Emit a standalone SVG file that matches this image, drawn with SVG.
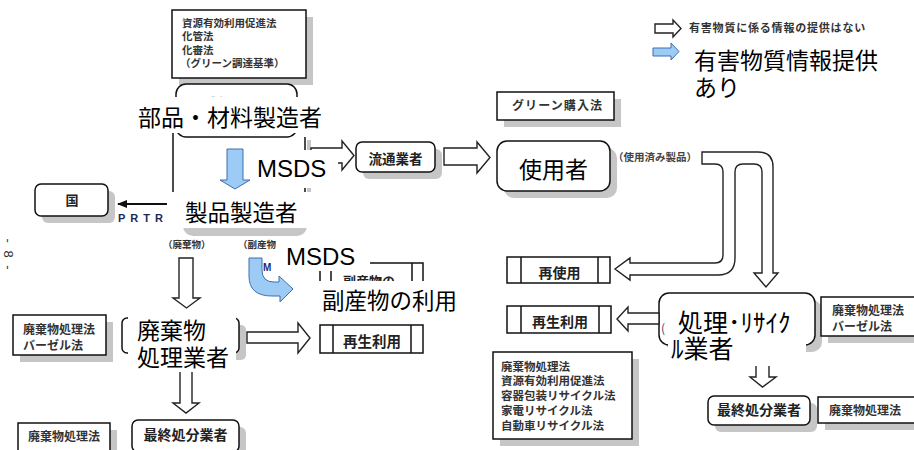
<svg xmlns="http://www.w3.org/2000/svg" width="914" height="450" viewBox="0 0 914 450">
<defs>
<marker id="ah" markerWidth="10" markerHeight="8" refX="9" refY="4" orient="auto" markerUnits="userSpaceOnUse">
<path d="M0,0 L10,4 L0,8 Z" fill="#111"/>
</marker>
</defs>
<style>
.bx{fill:#fff;stroke:#111;stroke-width:1.5}
.ln{fill:none;stroke:#111;stroke-width:1.5}
.sh{fill:#c6c6c6}
.ha{fill:#fff;stroke:#222;stroke-width:1.4}
.ba{fill:#9ccbf6;stroke:#3d6fae;stroke-width:1}
.wb{fill:#fff}
text{font-family:"Noto Sans CJK JP","Noto Sans CJK SC",sans-serif;fill:#222}
.law{font-size:11.5px;fill:#333;font-weight:bold}
.b{font-weight:bold}
.big{font-size:23px;fill:#000;font-weight:normal}
.ms{font-family:"Liberation Sans",Arial,sans-serif;font-size:24px;fill:#000}
.sm{font-size:9.5px;font-weight:bold;fill:#333}
</style>
<rect width="914" height="450" fill="#fff"/>

<g id="law-top">
<rect class="sh" x="179" y="17" width="134" height="68"/>
<rect class="bx" x="172" y="10" width="134" height="68"/>
<text class="law" style="font-size:10.5px" x="182" y="27">資源有効利用促進法</text>
<text class="law" style="font-size:10.5px" x="182" y="40">化管法</text>
<text class="law" style="font-size:10.5px" x="182" y="53.5">化審法</text>
<text class="law" style="font-size:10.5px" x="180" y="67">（グリーン調達基準）</text>
</g>

<g id="maker">
<rect class="bx" x="176" y="84" width="121" height="53" rx="10"/>
<text class="b" style="font-size:13px" x="210" y="108" letter-spacing="9">製造者</text>
<line class="ln" x1="173" y1="133" x2="173" y2="196"/>
<rect class="sh" x="307" y="140" width="4" height="52"/>
<line class="ln" x1="305" y1="137" x2="305" y2="196"/>
<rect class="sh" x="183" y="200" width="124" height="36" rx="10"/>
<rect class="wb" x="134" y="97" width="198" height="36"/>
<text class="big" x="138" y="125.5">部品・材料製造者</text>
<rect class="wb" x="172" y="192" width="136" height="36"/>
<text class="big" style="font-size:22.5px" x="185" y="220.5">製品製造者</text>
</g>

<g id="kuni">
<rect class="sh" x="42" y="191" width="73" height="32" rx="6"/>
<rect class="bx" x="35" y="184" width="73" height="32" rx="6"/>
<text class="b" style="font-size:13px" x="72" y="205" text-anchor="middle">国</text>
</g>

<g id="ryutsu">
<rect class="sh" x="363" y="149" width="79" height="30" rx="6"/>
<rect class="bx" x="356" y="142" width="79" height="30" rx="6"/>
<text class="b" style="font-size:13.5px" x="395.5" y="164" text-anchor="middle">流通業者</text>
</g>

<g id="green">
<rect class="sh" x="504" y="99" width="117" height="28"/>
<rect class="bx" x="497" y="92" width="117" height="28"/>
<text class="law" style="font-size:12px" x="512" y="110" textLength="90">グリーン購入法</text>
</g>

<g id="shiyo">
<rect class="sh" x="504" y="148" width="113" height="50" rx="10"/>
<rect class="bx" x="497" y="141" width="113" height="50" rx="10"/>
<text class="big" x="553.5" y="177.5" text-anchor="middle">使用者</text>
</g>

<g id="reuse">
<rect class="bx" x="507" y="257" width="103" height="26"/>
<line class="ln" x1="521" y1="257" x2="521" y2="283"/>
<line class="ln" x1="598" y1="257" x2="598" y2="283"/>
<text class="b" style="font-size:14px" x="559.5" y="278" text-anchor="middle">再使用</text>
</g>

<g id="recycle-right">
<rect class="bx" x="507" y="306" width="104" height="27"/>
<line class="ln" x1="521" y1="306" x2="521" y2="333"/>
<line class="ln" x1="599" y1="306" x2="599" y2="333"/>
<text class="b" style="font-size:14px" x="560" y="327" text-anchor="middle">再生利用</text>
</g>

<g id="shori">
<rect class="sh" x="666" y="300" width="156" height="52" rx="10"/>
<rect class="bx" x="659" y="293" width="156" height="52" rx="10"/>
<text style="font-size:12px;fill:#446" x="661" y="333">(</text>
<rect class="wb" x="668" y="305" width="138" height="60"/>
<text class="big" style="font-size:25px" x="678" y="332">処理･ﾘｻｲｸ</text>
<text class="big" style="font-size:25px" x="671" y="357.5">ﾙ業者</text>
</g>

<g id="law-right-1">
<rect class="sh" x="828" y="304" width="100" height="39"/>
<rect class="bx" x="821" y="297" width="100" height="39"/>
<text class="law" style="font-size:12px" x="832" y="314.5">廃棄物処理法</text>
<text class="law" style="font-size:12px" x="832" y="330.5">バーゼル法</text>
</g>

<g id="law-list">
<rect class="sh" x="500" y="359" width="139" height="87"/>
<rect class="bx" x="493" y="352" width="139" height="87"/>
<text class="law" x="501" y="370.5">廃棄物処理法</text>
<text class="law" x="501" y="384.5">資源有効利用促進法</text>
<text class="law" x="501" y="400">容器包装リサイクル法</text>
<text class="law" x="501" y="415">家電リサイクル法</text>
<text class="law" x="501" y="429.5">自動車リサイクル法</text>
</g>

<g id="saishu-right">
<rect class="sh" x="715" y="403" width="102" height="29" rx="6"/>
<rect class="bx" x="708" y="396" width="102" height="29" rx="6"/>
<text class="b" style="font-size:14px" x="759" y="415" text-anchor="middle">最終処分業者</text>
</g>

<g id="law-right-2">
<rect class="sh" x="825" y="404" width="100" height="26"/>
<rect class="bx" x="818" y="397" width="100" height="26"/>
<text class="law" style="font-size:12px" x="829" y="415">廃棄物処理法</text>
</g>

<g id="haiki-gyosha">
<rect class="sh" x="129" y="325" width="117" height="35" rx="5"/>
<rect class="bx" x="122" y="318" width="117" height="35" rx="5"/>
<rect class="wb" x="128" y="312" width="108" height="60"/>
<text class="big" x="137" y="339">廃棄物</text>
<text class="big" x="137" y="366">処理業者</text>
</g>

<g id="saishu-left">
<rect class="sh" x="139" y="427" width="107" height="30" rx="6"/>
<rect class="bx" x="132" y="420" width="107" height="32" rx="6"/>
<text class="b" style="font-size:14px" x="185.5" y="440" text-anchor="middle">最終処分業者</text>
</g>

<g id="law-left-1">
<rect class="sh" x="20" y="322" width="93" height="40"/>
<rect class="bx" x="13" y="315" width="93" height="40"/>
<text class="law" style="font-size:12px" x="23" y="333.5">廃棄物処理法</text>
<text class="law" style="font-size:12px" x="23" y="349.5">バーゼル法</text>
</g>

<g id="law-left-2">
<rect class="sh" x="25" y="430" width="92" height="30"/>
<rect class="bx" x="18" y="423" width="92" height="30"/>
<text class="law" style="font-size:12px" x="28" y="441">廃棄物処理法</text>
</g>

<g id="fukusanbutsu">
<rect class="bx" x="320" y="263" width="103" height="34"/>
<line class="ln" x1="331" y1="263" x2="331" y2="297"/>
<line class="ln" x1="412" y1="263" x2="412" y2="297"/>
<text class="b" style="font-size:13px" x="343" y="286">副産物の</text>
<rect class="wb" x="316" y="281" width="150" height="34"/>
<text class="big" style="font-size:22.5px" x="322" y="308.5">副産物の利用</text>
</g>

<g id="recycle-mid">
<rect class="bx" x="320" y="325" width="103" height="28"/>
<line class="ln" x1="333" y1="325" x2="333" y2="353"/>
<line class="ln" x1="411" y1="325" x2="411" y2="353"/>
<text class="b" style="font-size:14.5px" x="372" y="347" text-anchor="middle">再生利用</text>
</g>

<g id="legend">
<polygon class="ha" points="655,24 673,24 673,20 681,28.5 673,37 673,33 655,33"/>
<text style="font-size:11px;fill:#333;font-weight:bold" x="689" y="32" letter-spacing="0.8">有害物質に係る情報の提供はない</text>
<polygon class="ba" points="653,48 671,48 671,43 679,51.5 671,60 671,56 653,56"/>
<text class="big" x="694" y="69">有害物質情報提供</text>
<text class="big" x="694" y="96">あり</text>
</g>

<text transform="translate(4,255) rotate(90)" text-anchor="middle" style="font-family:'Liberation Sans',sans-serif;font-size:13px;fill:#333" letter-spacing="2">- 8 -</text>

<g id="connectors">
<line x1="167" y1="204" x2="118" y2="204" stroke="#111" stroke-width="2" marker-end="url(#ah)"/>
<text class="b" style="font-family:'Liberation Sans',Arial,sans-serif;font-size:11px;fill:#1c2a55" x="118" y="221.5" letter-spacing="5">PRTR</text>
<polygon class="ha" points="311,148 342,148 342,141 354,155.5 342,170 342,163 311,163"/>
<polygon class="ha" points="444,148 477,148 477,142 490,157.5 477,173 477,165 444,165"/>
<path class="ha" d="M702,152 L758,152 Q773,152 773,167 L773,273 L778,273 L766,287 L754,273 L762,273 L762,172 Q762,164 754,164 L743,164 Q735,164 735,172 L735,258 Q735,275 718,275 L630,275 L630,280 L615,269 L630,258 L630,263 L715,263 Q723,263 723,255 L723,172 Q723,164 715,164 L702,164 Z"/>
<polygon class="ha" points="659,313 628,313 628,307 617,319 628,331 628,324 659,324"/>
<path class="ha" d="M756,366 L756,377 L750,377 L762.5,387 L776,377 L769,377 L769,366"/>
<polygon class="ha" points="179,258 193,258 193,298 200,298 186.5,308 173,298 179,298"/>
<path class="ha" d="M180,372 L180,403 L173,403 L186,413 L199,403 L192,403 L192,372"/>
<polygon class="ha" points="247,332 298,332 298,323 310,338 298,353 298,343 247,343"/>
<polygon class="ba" points="227,149 243,149 243,180 250,180 235,189 220,180 227,180"/>
<path class="ba" d="M249,258 L262,258 L262,270 Q262,282 274,282 L279,282 L279,276 L293,289 L280,302 L280,296 L272,296 Q249,296 249,276 Z"/>
<text class="sm" x="163" y="247.5">（廃棄物）</text>
<text class="sm" x="238" y="247.5">（副産物</text>
<text style="font-family:'Liberation Sans',sans-serif;font-size:10px;font-weight:bold;fill:#1c2a7a" x="263" y="271">M</text>
<text style="font-size:10.5px;fill:#444;font-weight:bold" x="613" y="161">（使用済み製品）</text>
<rect class="wb" x="252" y="150" width="86" height="38"/>
<text class="ms" x="257" y="177">MSDS</text>
<rect class="wb" x="276" y="238" width="94" height="33"/>
<text class="ms" x="286" y="265">MSDS</text>
</g>
</svg>
